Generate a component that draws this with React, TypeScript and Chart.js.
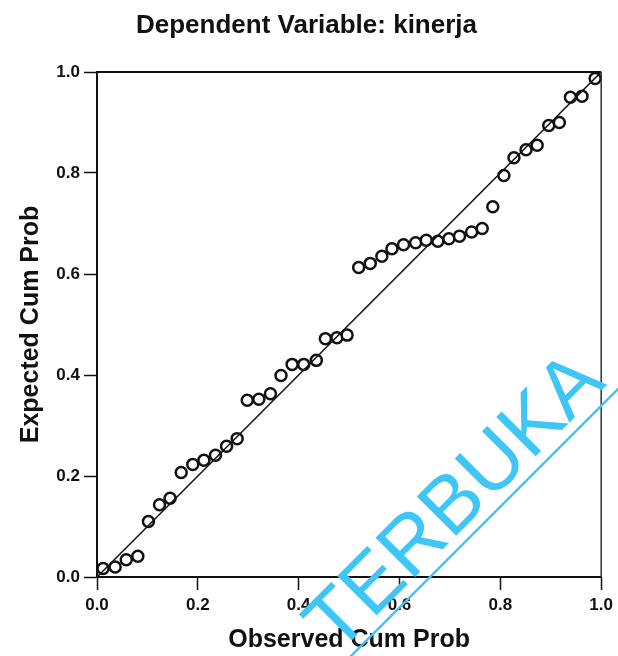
import React, { useEffect, useRef } from "react";
import { Chart, registerables } from "chart.js";

Chart.register(...registerables);

const chartTitle = "Dependent Variable: kinerja";
const xAxisTitle = "Observed Cum Prob";
const yAxisTitle = "Expected Cum Prob";
const watermarkText = "TERBUKA";

const tickValues = [0, 0.2, 0.4, 0.6, 0.8, 1.0];

// Observed cumulative probability (x)
const observedCumProb = [
  0.012, 0.036, 0.058, 0.081, 0.102, 0.124, 0.145, 0.167, 0.19, 0.212,
  0.235, 0.257, 0.278, 0.298, 0.321, 0.344, 0.365, 0.387, 0.41, 0.435,
  0.453, 0.476, 0.496, 0.519, 0.542, 0.565, 0.585, 0.608, 0.632, 0.653,
  0.676, 0.698, 0.719, 0.743, 0.764, 0.785, 0.807, 0.827, 0.851, 0.873,
  0.896, 0.917, 0.939, 0.962, 0.988,
];

// Expected cumulative probability (y)
const expectedCumProb = [
  0.017, 0.02, 0.034, 0.041, 0.11, 0.143, 0.156, 0.207, 0.223, 0.231,
  0.241, 0.259, 0.274, 0.35, 0.352, 0.363, 0.399, 0.421, 0.421, 0.429,
  0.472, 0.474, 0.479, 0.613, 0.621, 0.635, 0.65, 0.658, 0.662, 0.667,
  0.665, 0.67, 0.675, 0.683, 0.69, 0.733, 0.795, 0.83, 0.846, 0.855,
  0.894, 0.9, 0.95, 0.952, 0.987,
];

// Reference diagonal
const diagonalX = [0, 1];
const diagonalY = [0, 1];

const INK = "#111111";
const CYAN = "#40c6f6";

const framePlugin = {
  id: "frame",
  afterDatasetsDraw(chart: any) {
    const { ctx, chartArea } = chart;
    const { left, right, top, bottom } = chartArea;
    ctx.save();
    ctx.strokeStyle = INK;
    ctx.lineWidth = 2;
    ctx.beginPath();
    ctx.moveTo(left, top);
    ctx.lineTo(right, top);
    ctx.stroke();
    ctx.lineWidth = 1.5;
    ctx.strokeStyle = "#333";
    ctx.beginPath();
    ctx.moveTo(right, top);
    ctx.lineTo(right, bottom);
    ctx.stroke();
    ctx.restore();
  },
};

const watermarkPlugin = {
  id: "watermark",
  afterDraw(chart: any) {
    const { ctx } = chart;
    ctx.save();
    ctx.translate(337, 655);
    ctx.rotate(-Math.PI / 4);
    ctx.fillStyle = CYAN;
    ctx.font = "81px 'Liberation Sans'";
    ctx.textBaseline = "alphabetic";
    ctx.textAlign = "left";
    ctx.fillText(watermarkText, 0, 0);
    ctx.strokeStyle = CYAN;
    ctx.lineWidth = 2.5;
    ctx.beginPath();
    ctx.moveTo(-40, 10.6);
    ctx.lineTo(420, 10.6);
    ctx.stroke();
    ctx.restore();
  },
};

export default function App() {
  const canvasRef = useRef<HTMLCanvasElement | null>(null);

  useEffect(() => {
    if (!canvasRef.current) return;
    Chart.defaults.font.family = "'Liberation Sans', Arial, sans-serif";
    const tickFont = { size: 17, weight: "bold" as const };
    const chart = new Chart(canvasRef.current, {
      type: "scatter",
      data: {
        datasets: [
          {
            label: "diagonal",
            data: diagonalX.map((x, i) => ({ x, y: diagonalY[i] })),
            showLine: true,
            borderColor: INK,
            borderWidth: 1.5,
            pointRadius: 0,
            order: 0,
          },
          {
            label: "points",
            data: observedCumProb.map((x, i) => ({ x, y: expectedCumProb[i] })),
            pointRadius: 5.5,
            pointBorderWidth: 2.5,
            borderColor: INK,
            backgroundColor: "#ffffff",
            order: 1,
            clip: false as any,
          },
        ],
      },
      options: {
        animation: false,
        responsive: false,
        events: [],
        layout: { padding: { left: 0, right: 5, top: 0, bottom: 0 } },
        plugins: {
          legend: { display: false },
          tooltip: { enabled: false },
          title: {
            display: true,
            text: chartTitle,
            color: INK,
            font: { size: 26, weight: "bold" },
            padding: { top: 10, bottom: 30.8 },
          },
        },
        scales: {
          x: {
            type: "linear",
            min: 0,
            max: 1,
            afterFit: (s: any) => {
              s.height = 79;
            },
            afterBuildTicks: (s: any) => {
              s.ticks = tickValues.map((v) => ({ value: v }));
            },
            ticks: {
              color: INK,
              font: tickFont,
              padding: 5,
              maxRotation: 0,
              callback: (v: any) => Number(v).toFixed(1),
            },
            grid: {
              drawOnChartArea: false,
              drawTicks: true,
              tickLength: 13,
              tickWidth: 1.5,
              tickColor: INK,
            },
            border: { display: true, color: INK, width: 2 },
            title: {
              display: true,
              text: xAxisTitle,
              color: INK,
              font: { size: 25, weight: "bold" },
              padding: { top: 0, bottom: 1 },
            },
          },
          y: {
            type: "linear",
            min: 0,
            max: 1,
            afterFit: (s: any) => {
              s.width = 97;
            },
            afterBuildTicks: (s: any) => {
              s.ticks = tickValues.map((v) => ({ value: v }));
            },
            ticks: {
              color: INK,
              font: tickFont,
              padding: 4,
              callback: (v: any) => Number(v).toFixed(1),
            },
            grid: {
              drawOnChartArea: false,
              drawTicks: true,
              tickLength: 13,
              tickWidth: 1.5,
              tickColor: INK,
            },
            border: { display: true, color: INK, width: 2 },
            title: {
              display: true,
              text: yAxisTitle,
              color: INK,
              font: { size: 25, weight: "bold" },
              padding: { top: 16, bottom: 0 },
            },
          },
        },
      },
      plugins: [framePlugin, watermarkPlugin],
    });
    return () => chart.destroy();
  }, []);

  return (
    <div style={{ position: "absolute", left: 0, top: 0, width: 618, height: 656, background: "#fff" }}>
      <canvas ref={canvasRef} width={618} height={656} style={{ display: "block" }} />
    </div>
  );
}
